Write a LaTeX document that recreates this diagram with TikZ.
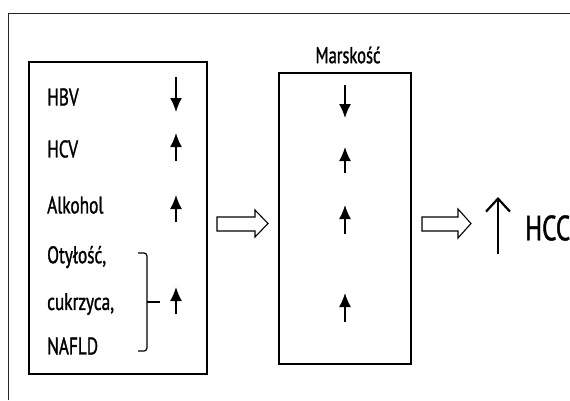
\documentclass[tikz,border=0pt]{standalone}
\usepackage{fontspec}
\setmainfont{PT Sans}[FakeStretch=0.72,FakeBold=1.2]
\usetikzlibrary{arrows.meta}
\begin{document}
\begin{tikzpicture}[x=1pt,y=-1pt,
  lbl/.style={inner sep=0pt, anchor=west, font=\fontsize{24}{24}\selectfont},
  box/.style={draw, line width=1.4pt},
  smallar/.style={line width=1.6pt, -{Latex[length=14pt,width=12pt]}},
  hollow/.style={draw, line width=1.1pt, fill=white, line join=miter},
  brace/.style={draw, line width=1.2pt, rounded corners=3pt}
]
\useasboundingbox (0,0) rectangle (570,400);
% outer frame (only left and top visible)
\draw[line width=1pt, black!85] (8,400) -- (8,13) -- (570,13);

% boxes
\node[box, minimum width=178pt, minimum height=312pt, inner sep=0pt] (left) at (118,218) {};
\node[box, minimum width=132pt, minimum height=291pt, inner sep=0pt] (mid) at (345,218.5) {};

% labels
\node[lbl] (hbv) at (47,97) {HBV};
\node[lbl] (hcv) at (47,149) {HCV};
\node[lbl] (alk) at (47,205) {Alkohol};
\node[lbl] (oty) at (47,257) {Otyłość,};
\node[lbl] (cuk) at (47,304) {cukrzyca,};
\node[lbl] (naf) at (47,346) {NAFLD};
\node[inner sep=0pt, font=\fontsize{23}{23}\selectfont] (mars) at (348,55) {Marskość};
\node[inner sep=0pt, anchor=west, font=\fontsize{35}{35}\selectfont] (hcc) at (525,228) {HCC};

% left column arrows
\coordinate (a1s) at (176,77);  \coordinate (a1e) at (176,112);
\coordinate (a2s) at (176,161); \coordinate (a2e) at (176,133);
\coordinate (a3s) at (176,222); \coordinate (a3e) at (176,195);
\coordinate (a4s) at (176,314); \coordinate (a4e) at (176,287);
\draw[smallar] (a1s) -- (a1e);
\draw[smallar] (a2s) -- (a2e);
\draw[smallar] (a3s) -- (a3e);
\draw[smallar] (a4s) -- (a4e);

% middle column arrows
\coordinate (m1s) at (345,85);  \coordinate (m1e) at (345,118);
\coordinate (m2s) at (345,173); \coordinate (m2e) at (345,147);
\coordinate (m3s) at (345,234); \coordinate (m3e) at (345,205);
\coordinate (m4s) at (345,322); \coordinate (m4e) at (345,293);
\draw[smallar] (m1s) -- (m1e);
\draw[smallar] (m2s) -- (m2e);
\draw[smallar] (m3s) -- (m3e);
\draw[smallar] (m4s) -- (m4e);

% brace
\coordinate (bt) at (138,253);
\coordinate (bb) at (138,351);
\coordinate (bm) at (147,302);
\coordinate (btip) at (160,302);
\draw[brace] (bt) -- (147,253) -- (147,351) -- (bb);
\draw[line width=1.2pt] (bm) -- (btip);

% hollow arrows
\draw[hollow] (217,217) -- (255,217) -- (255,210) -- (268,223.5) -- (255,237) -- (255,231) -- (217,231) -- cycle;
\draw[hollow] (422,217) -- (458,217) -- (458,209) -- (471,223.5) -- (458,238) -- (458,231) -- (422,231) -- cycle;

% HCC arrow
\coordinate (hs) at (498,254); \coordinate (he) at (498,197);
\draw[line width=2.2pt, -{Straight Barb[length=13pt,width=24pt]}] (hs) -- (he);
\end{tikzpicture}
\end{document}
